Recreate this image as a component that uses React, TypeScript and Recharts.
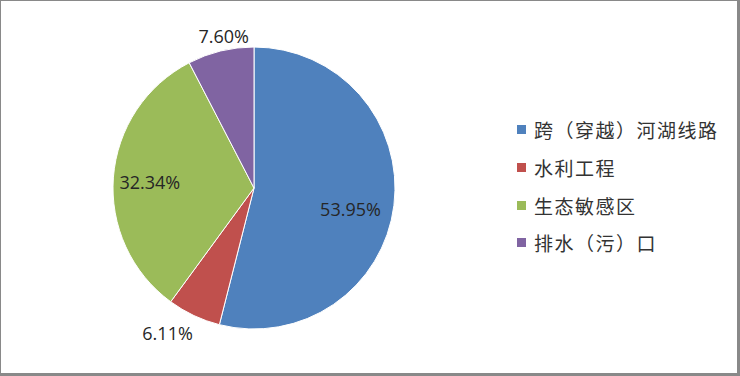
import { PieChart, Pie, Cell, Legend } from 'recharts'

const categories = ['跨（穿越）河湖线路', '水利工程', '生态敏感区', '排水（污）口']
const shares = [53.95, 6.11, 32.34, 7.6]
const labels = ['53.95%', '6.11%', '32.34%', '7.60%']

const colors = ['#4F81BD', '#C0504D', '#9BBB59', '#8064A2']
// label placement: distance as a fraction of the radius, and a clockwise nudge in degrees
const labelRadius = [0.7, 1.2, 0.74, 1.1]
const labelNudge = [5, 5.5, -1, 2.4]

const data = categories.map((name, i) => ({ name, value: shares[i] }))

const RAD = Math.PI / 180

function renderLabel(props: any) {
  const { cx, cy, midAngle, outerRadius, index } = props
  const r = outerRadius * labelRadius[index]
  const a = midAngle - labelNudge[index]
  const x = cx + r * Math.cos(-a * RAD)
  const y = cy + r * Math.sin(-a * RAD)
  return (
    <text
      x={x}
      y={y}
      textAnchor="middle"
      dominantBaseline="central"
      fill="#262626"
      fontSize={18}
      fontFamily="'Open Sans', sans-serif"
    >
      {labels[index]}
    </text>
  )
}

function LegendBox() {
  return (
    <div style={{ fontFamily: "'Noto Sans CJK SC', sans-serif" }}>
      {categories.map((c, i) => (
        <div
          key={c}
          style={{ display: 'flex', alignItems: 'center', height: 37.7, whiteSpace: 'nowrap' }}
        >
          <span
            style={{
              width: 9,
              height: 9,
              background: colors[i],
              marginRight: 8,
              display: 'inline-block',
            }}
          />
          <span style={{ fontSize: 19, letterSpacing: 1.5, color: '#333' }}>{c}</span>
        </div>
      ))}
    </div>
  )
}

export default function App() {
  return (
    <div
      style={{
        position: 'absolute',
        left: 0,
        top: 0,
        width: 740,
        height: 376,
        boxSizing: 'border-box',
        borderStyle: 'solid',
        borderColor: '#898989',
        borderWidth: '1px 3px 3px 1px',
        background: '#fff',
      }}
    >
      <PieChart width={736} height={372}>
        <Pie
          data={data}
          dataKey="value"
          nameKey="name"
          cx={248}
          cy={182}
          outerRadius={141}
          startAngle={90}
          endAngle={-270}
          stroke="#fff"
          strokeWidth={1}
          label={renderLabel}
          labelLine={false}
          isAnimationActive={false}
        >
          {data.map((d, i) => (
            <Cell key={d.name} fill={colors[i]} />
          ))}
        </Pie>
        <Legend
          layout="vertical"
          align="right"
          verticalAlign="top"
          content={<LegendBox />}
          wrapperStyle={{ left: 516, top: 110, width: 220 }}
        />
      </PieChart>
    </div>
  )
}
